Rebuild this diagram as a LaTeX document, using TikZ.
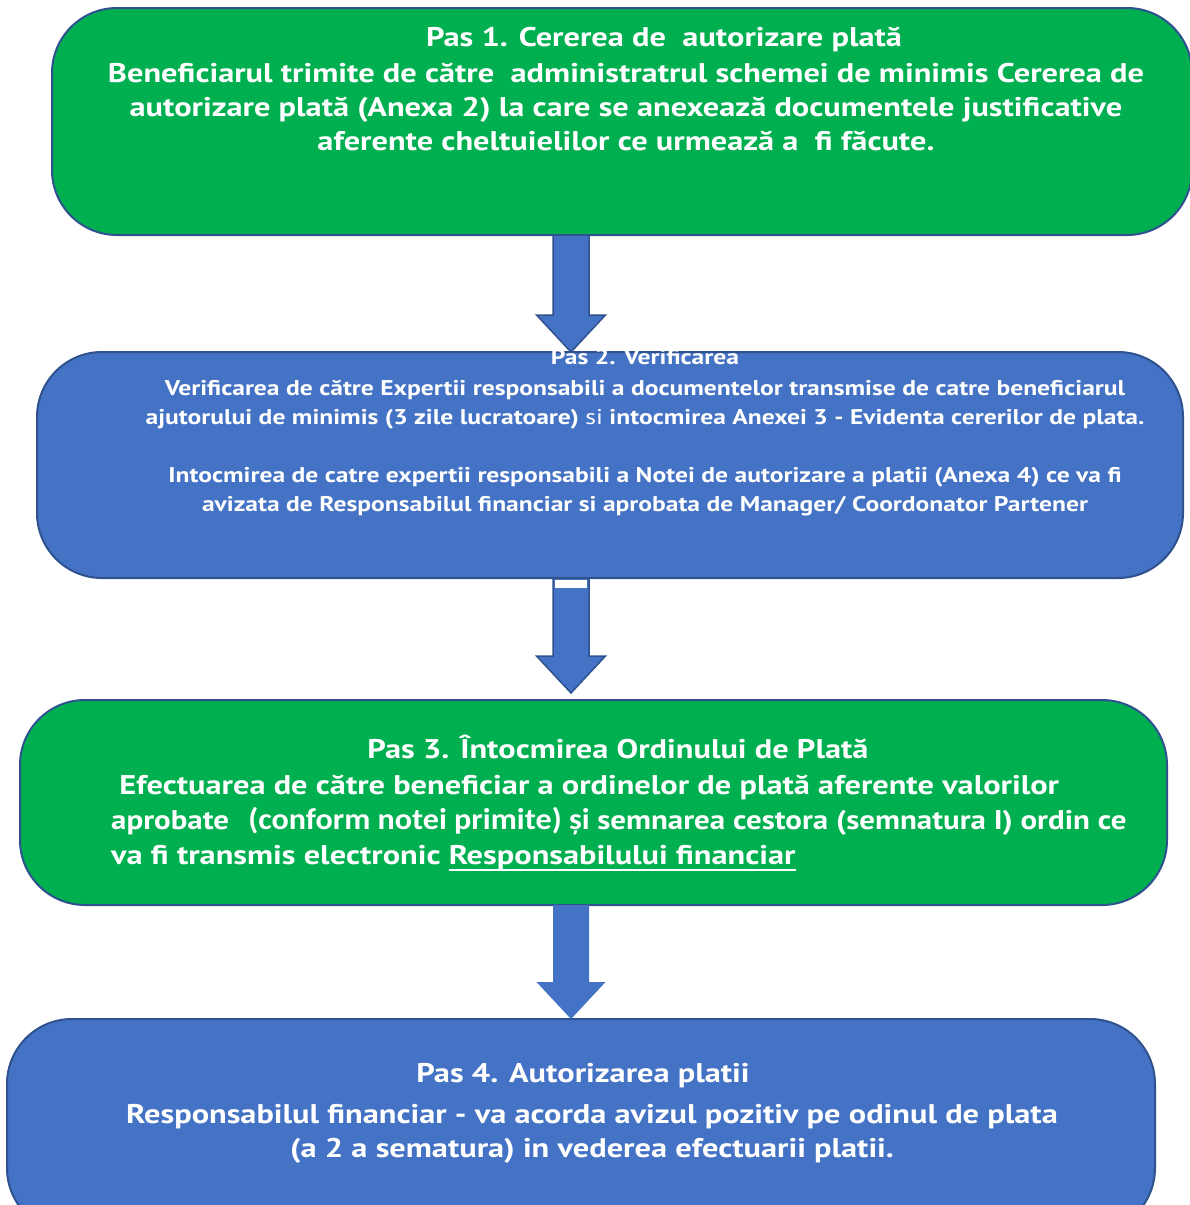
\documentclass[tikz,border=0pt]{standalone}
\usepackage{fontspec}
\usepackage{graphicx}
\setmainfont{PT Sans}[FakeStretch=1.2]
\newfontfamily\calfont{Carlito}[FakeStretch=1.12]
\usetikzlibrary{calc}
\newsavebox\myulbox
\newcommand\myuline[1]{\sbox\myulbox{#1}\rlap{\rule[-6pt]{\wd\myulbox}{2pt}}\usebox\myulbox}
\definecolor{boxgreen}{HTML}{00B050}
\definecolor{boxblue}{HTML}{4472C4}
\definecolor{edgeblue}{HTML}{2F528F}
\begin{document}
\begin{tikzpicture}[x=1pt,y=-1pt,
  stepbox/.style={draw=edgeblue, line width=2pt, rounded corners=65pt, inner sep=0pt, outer sep=0pt},
  greenbox/.style={stepbox, fill=boxgreen},
  bluebox/.style={stepbox, fill=boxblue},
  steptext/.style={text=white, font=\bfseries, inner sep=0pt},
  bigtext/.style={steptext, font=\bfseries\fontsize{27}{34}\selectfont},
  smalltext/.style={steptext, font=\bfseries\fontsize{21.3}{29}\selectfont},
  blockarrow/.style={to path={let \p1=(\tikztostart), \p2=(\tikztotarget) in
     (\x1-18pt,\y1) -- (\x1-18pt,\y2+37pt) -- (\x1-34.5pt,\y2+37pt) -- (\x2,\y2)
     -- (\x1+34.5pt,\y2+37pt) -- (\x1+18pt,\y2+37pt) -- (\x1+18pt,\y1) -- cycle}},
  arrowline/.style={fill=boxblue, draw=edgeblue, line width=1.5pt},
  arrowflat/.style={fill=boxblue, draw=none}]
\useasboundingbox (0,0) rectangle (1189,1205);
\fill[white] (0,0) rectangle (1189,1205);

% boxes
\node[greenbox, minimum width=1140pt, minimum height=227pt] (b1) at (622,121.5) {};
\node[bluebox, minimum width=1146pt, minimum height=226pt] (b2) at (610,465) {};
\node[greenbox, minimum width=1147pt, minimum height=205pt] (b3) at (593.5,802.5) {};
\node[bluebox, minimum width=1148pt, minimum height=214pt] (b4) at (581,1126) {};

% arrows
\coordinate (ax) at (571,0);
\draw[arrowline] (b1.south -| ax) to[blockarrow] (b2.north -| ax);
\draw[arrowline] (b2.south -| ax) to[blockarrow] ($(b3.north -| ax)+(0,-7)$);
\fill[white] ($(b2.south -| ax)+(-16,2)$) rectangle ($(b2.south -| ax)+(16,10)$);
\fill[arrowflat] (b3.south -| ax) to[blockarrow] (b4.north -| ax);

% texts box 1
\node[bigtext] (t1) at (664,39) {Pas 1. Cererea de\ \ autorizare plată};
\node[bigtext, align=center] (t1b) at (626,107)
 {Beneficiarul trimite de către\ \ administratrul schemei de minimis Cererea de\\
  autorizare plată (Anexa 2) la care se anexează documentele justificative\\
  aferente cheltuielilor ce urmează a\ \ fi făcute.};

% texts box 2
\node[smalltext] (t2) at (645,357) {Pas 2. Verificarea};
\node[smalltext, align=center] (t2b) at (645,448)
 {Verificarea de către Expertii responsabili a documentelor transmise de catre beneficiarul\\
  ajutorului de minimis (3 zile lucratoare) {\mdseries si} intocmirea Anexei 3 - Evidenta cererilor de plata.\\[29pt]
  Intocmirea de catre expertii responsabili a Notei de autorizare a platii (Anexa 4) ce va fi\\
  avizata de Responsabilul financiar si aprobata de Manager/ Coordonator Partener};

% texts box 3
\node[bigtext, font=\bfseries\fontsize{27}{35}\selectfont] (t3) at (618,747) {Pas 3. Întocmirea Ordinului de Plată};
\node[bigtext, font=\bfseries\fontsize{27}{35}\selectfont, align=left, anchor=west] (t3b) at (111,823)
 {\ Efectuarea de către beneficiar a ordinelor de plată aferente valorilor\\
  \scalebox{0.956}[1]{aprobate\hspace{20pt}{\calfont\bfseries\fontsize{30}{35}\selectfont(conform notei primite) și}\hspace{8pt}semnarea cestora (semnatura I) ordin ce}\\
  va fi transmis electronic \myuline{Responsabilului financiar}};

% texts box 4
\node[bigtext] (t4) at (583,1076) {Pas 4. Autorizarea platii};
\node[bigtext, align=center] (t4b) at (592,1134)
 {Responsabilul financiar - va acorda avizul pozitiv pe odinul de plata\\
  (a 2 a sematura) in vederea efectuarii platii.};
\end{tikzpicture}
\end{document}
